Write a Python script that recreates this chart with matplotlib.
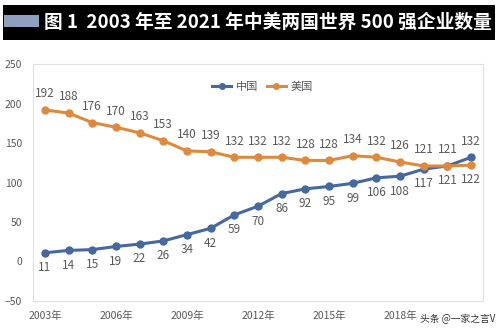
import numpy as np
import matplotlib
matplotlib.use("Agg")
import matplotlib.pyplot as plt
from matplotlib.patches import Rectangle

plt.rcParams['font.family'] = ['Noto Sans CJK SC', 'DejaVu Sans']

# Data
years = list(range(2003, 2022))
china = [11, 14, 15, 19, 22, 26, 34, 42, 59, 70, 86, 92, 95, 99, 106, 108, 117, 121, 132]
usa = [192, 188, 176, 170, 163, 153, 140, 139, 132, 132, 132, 128, 128, 134, 132, 126, 121, 121, 122]
tick_years = [2003, 2006, 2009, 2012, 2015, 2018]
tick_labels = ["2003年", "2006年", "2009年", "2012年", "2015年", "2018年"]

c_cn = "#45699f"
c_us = "#de8a3e"
txt = "#595959"

fig = plt.figure(figsize=(5, 3.34), dpi=100)

# Title bar
fig.patches.append(Rectangle((0.006, 0.880), 0.984, 0.105, transform=fig.transFigure,
                             facecolor="black", edgecolor="none"))
fig.patches.append(Rectangle((0.008, 0.918), 0.070, 0.036, transform=fig.transFigure,
                             facecolor="#8f9fbf", edgecolor="none"))
fig.text(0.088, 0.933, "图 1  2003 年至 2021 年中美两国世界 500 强企业数量",
         color="white", fontsize=13.5, fontweight="bold", va="center", ha="left")

ax = fig.add_axes([0.066, 0.099, 0.900, 0.709])
ax.plot(years, china, color=c_cn, lw=2.2, marker="o", ms=5, label="中国")
ax.plot(years, usa, color=c_us, lw=2.2, marker="o", ms=5, label="美国")

ax.set_xlim(2002.5, 2021.5)
ax.set_ylim(-50, 250)
ax.set_yticks([-50, 0, 50, 100, 150, 200, 250])
ax.set_xticks(tick_years)
ax.set_xticklabels(tick_labels)
ax.tick_params(length=0, colors=txt, labelsize=7.5)
ax.tick_params(axis="x", pad=7)
ax.tick_params(axis="y", pad=8)
for s in ax.spines.values():
    s.set_color("#e0e0e0")
    s.set_linewidth(0.8)

# Data labels
for i, (y, c, u) in enumerate(zip(years, china, usa)):
    if c > u:
        ax.annotate(str(c), (y, c), xytext=(0, 7), textcoords="offset points",
                    ha="center", va="bottom", fontsize=8.5, color=txt)
        ax.annotate(str(u), (y, u), xytext=(0, -6), textcoords="offset points",
                    ha="center", va="top", fontsize=8.5, color=txt)
    else:
        ax.annotate(str(u), (y, u), xytext=(0, 7), textcoords="offset points",
                    ha="center", va="bottom", fontsize=8.5, color=txt)
        ax.annotate(str(c), (y, c), xytext=(0, -6), textcoords="offset points",
                    ha="center", va="top", fontsize=8.5, color=txt)

leg = ax.legend(loc="upper center", bbox_to_anchor=(0.51, 0.97), ncol=2, frameon=False,
                fontsize=8, handlelength=1.7, columnspacing=0.8, handletextpad=0.4,
                markerscale=0.8)
for t in leg.get_texts():
    t.set_color(txt)

# watermark
fig.text(0.99, 0.045, "头条 @一家之言V", color="#333333", fontsize=7, ha="right", va="center")

fig.savefig("out.png", dpi=100)
